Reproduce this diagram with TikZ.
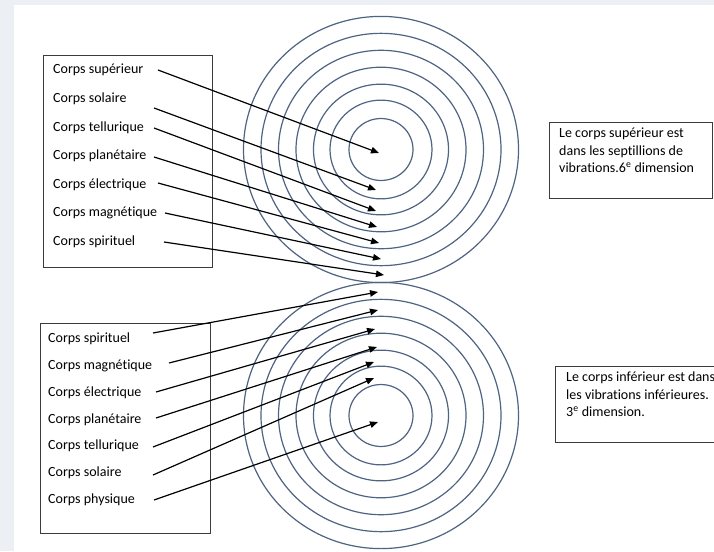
\documentclass[tikz,border=0pt]{standalone}
\usepackage{fontspec}
\setmainfont[Ligatures={NoCommon}]{Carlito}
\usetikzlibrary{arrows.meta}
\definecolor{ringc}{HTML}{4F6382}
\definecolor{boxline}{HTML}{3C3C3C}
\definecolor{bggray}{HTML}{ECEFF3}
\begin{document}
\begin{tikzpicture}[x=1pt,y=-1pt,
  lab/.style={anchor=west, inner sep=0pt, font=\fontsize{14}{17}\selectfont},
  note/.style={anchor=north west, inner sep=0pt, align=left, font=\fontsize{14}{17.5}\selectfont},
  frame/.style={draw=boxline, line width=0.9pt},
  ring/.style={draw=ringc, line width=1.2pt},
  arr/.style={draw=black, line width=1.2pt, -{Triangle[length=8pt,width=6.5pt]}}]
\useasboundingbox (0,0) rectangle (714,551);
\clip (0,0) rectangle (714,551);
\fill[bggray] (0,0) rectangle (714,551);
\fill[white] (14,5) rectangle (714,551);

% concentric rings
\foreach \r in {32,51,67.5,85,102.5,120,137.5}{
  \pgfmathsetmacro{\ry}{0.968*\r}
  \draw[ring] (381,149.5) ellipse [x radius=\r pt, y radius=\ry pt];
  \draw[ring] (381,415.5) ellipse [x radius=\r pt, y radius=\ry pt];
}

% left boxes
\draw[frame] (43,55) rectangle (212,267);
\draw[frame] (40,323) rectangle (210,533);

% upper labels
\node[lab] (u1) at (53,70)  {Corps supérieur};
\node[lab] (u2) at (53,99)  {Corps solaire};
\node[lab] (u3) at (53,128) {Corps tellurique};
\node[lab] (u4) at (53,156) {Corps planétaire};
\node[lab] (u5) at (53,185) {Corps électrique};
\node[lab] (u6) at (53,213) {Corps magnétique};
\node[lab] (u7) at (53,242) {Corps spirituel};

% lower labels
\node[lab] (l1) at (48,339) {Corps spirituel};
\node[lab] (l2) at (48,366) {Corps magnétique};
\node[lab] (l3) at (48,393) {Corps électrique};
\node[lab] (l4) at (48,420) {Corps planétaire};
\node[lab] (l5) at (48,446) {Corps tellurique};
\node[lab] (l6) at (48,473) {Corps solaire};
\node[lab] (l7) at (48,500) {Corps physique};

% arrow start points
\coordinate (us1) at (158,70);
\coordinate (us2) at (154,108);
\coordinate (us3) at (154,128);
\coordinate (us4) at (154,157);
\coordinate (us5) at (158,183);
\coordinate (us6) at (165,213);
\coordinate (us7) at (164,242);
\coordinate (ls1) at (153,333);
\coordinate (ls2) at (169,363);
\coordinate (ls3) at (156,392);
\coordinate (ls4) at (156,418);
\coordinate (ls5) at (153,447);
\coordinate (ls6) at (153,475);
\coordinate (ls7) at (154,500);

% arrow tips
\coordinate (ut1) at (379,153);
\coordinate (ut2) at (376,190);
\coordinate (ut3) at (376,211);
\coordinate (ut4) at (377,227);
\coordinate (ut5) at (379,243);
\coordinate (ut6) at (381,259);
\coordinate (ut7) at (384,275);
\coordinate (lt1) at (378,292);
\coordinate (lt2) at (378,310);
\coordinate (lt3) at (375,329);
\coordinate (lt4) at (377,347);
\coordinate (lt5) at (374,362);
\coordinate (lt6) at (374,378);
\coordinate (lt7) at (378,422);

\foreach \i in {1,...,7}{
  \draw[arr] (us\i) -- (ut\i);
  \draw[arr] (ls\i) -- (lt\i);
}

% right boxes
\draw[frame] (549,122) rectangle (712,198);
\node[note] (n1) at (559,128) {Le corps supérieur est\\dans les septillions de\\vibrations.6\textsuperscript{e} dimension};
\draw[frame] (555,366) rectangle (730,442);
\node[note] (n2) at (566,372) {Le corps inférieur est dans\\les vibrations inférieures.\\3\textsuperscript{e} dimension.};
\end{tikzpicture}
\end{document}
